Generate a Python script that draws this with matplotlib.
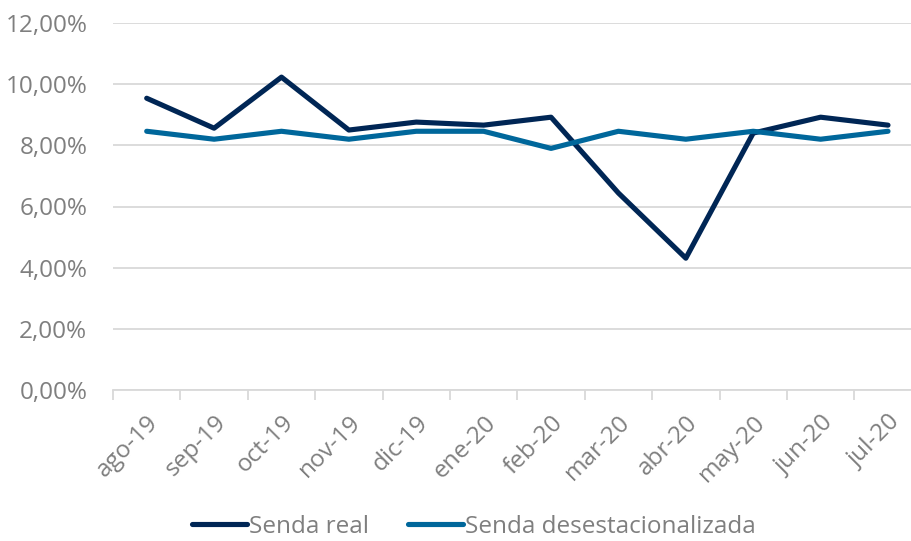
import matplotlib
matplotlib.use("Agg")
import matplotlib.pyplot as plt
from matplotlib.ticker import FuncFormatter, FixedLocator, NullFormatter

categories = ["ago-19", "sep-19", "oct-19", "nov-19", "dic-19", "ene-20",
              "feb-20", "mar-20", "abr-20", "may-20", "jun-20", "jul-20"]
senda_real = [9.54, 8.56, 10.23, 8.50, 8.76, 8.66, 8.92, 6.44, 4.31, 8.40, 8.92, 8.66]
senda_desest = [8.46, 8.20, 8.46, 8.20, 8.46, 8.46, 7.90, 8.46, 8.20, 8.46, 8.20, 8.46]
yticks = [0, 2, 4, 6, 8, 10, 12]

plt.rcParams['font.family'] = ['Open Sans', 'DejaVu Sans']
grey = "#7f7f7f"
fs = 17.5

fig = plt.figure(figsize=(9.12, 5.41), dpi=100)
ax = fig.add_axes([113/912, 1-390/541, 808.7/912, (390-23)/541])

x = list(range(len(categories)))
ax.plot(x, senda_real, color="#002655", lw=3.7, label="Senda real", solid_capstyle="round", zorder=3)
ax.plot(x, senda_desest, color="#00679b", lw=3.7, label="Senda desestacionalizada", solid_capstyle="round", zorder=3)

ax.set_xlim(-0.5, len(categories) - 0.5)
ax.set_ylim(0, 12)
ax.set_yticks(yticks)
ax.yaxis.set_major_formatter(FuncFormatter(lambda v, p: f"{v:.2f}%".replace(".", ",")))
ax.grid(axis="y", color="#d9d9d9", lw=1.3)
ax.set_axisbelow(True)
for s in ["top", "right", "left"]:
    ax.spines[s].set_visible(False)
ax.spines["bottom"].set_color("#d9d9d9")
ax.spines["bottom"].set_linewidth(1.3)
ax.tick_params(axis="y", length=0, pad=18.5, labelsize=fs, labelcolor=grey)

ax.xaxis.set_major_locator(FixedLocator([i - 0.5 for i in range(len(categories) + 1)]))
ax.xaxis.set_major_formatter(NullFormatter())
ax.set_xticks(x, minor=True)
ax.set_xticklabels(categories, minor=True, rotation=45, ha="right", rotation_mode="anchor")
ax.tick_params(axis="x", which="major", length=7, color="#d9d9d9", width=1.3)
ax.tick_params(axis="x", which="minor", length=0, pad=15, labelsize=fs, labelcolor=grey)

leg = fig.legend(loc="lower center", bbox_to_anchor=(0.52, -0.036), ncol=2, frameon=False,
                 fontsize=fs, handlelength=2.25, handletextpad=0.1, columnspacing=1.6)
for t in leg.get_texts():
    t.set_color(grey)

fig.savefig("out.png", dpi=100)
